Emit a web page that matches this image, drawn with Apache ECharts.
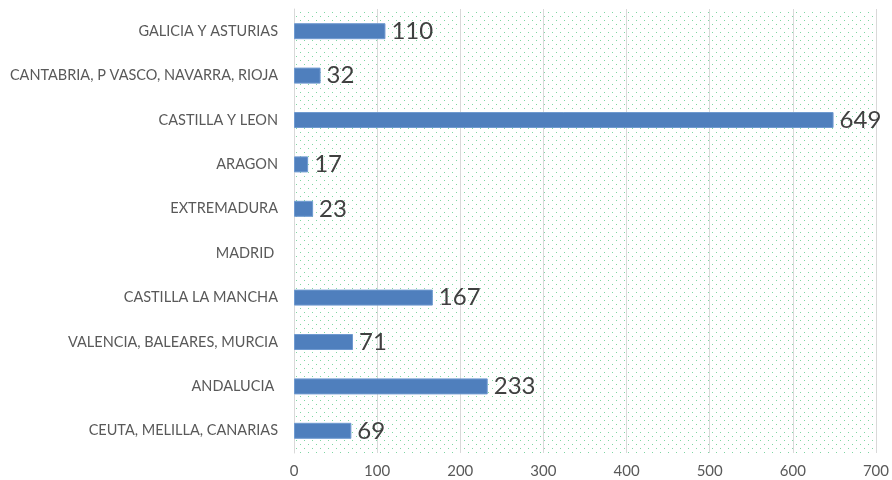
<!DOCTYPE html>
<html><head><meta charset="utf-8">
<script src="https://cdn.jsdelivr.net/npm/echarts@6/dist/echarts.min.js"></script>
<style>html,body{margin:0;padding:0;background:#fff}#c{width:892px;height:480px}</style>
</head><body><div id="c"></div>
<script>
const categories = ["GALICIA Y ASTURIAS","CANTABRIA, P VASCO, NAVARRA, RIOJA","CASTILLA Y LEON","ARAGON","EXTREMADURA","MADRID ","CASTILLA LA MANCHA","VALENCIA, BALEARES, MURCIA","ANDALUCIA ","CEUTA, MELILLA, CANARIAS"];
const values = [110, 32, 649, 17, 23, null, 167, 71, 233, 69];
const xTicks = [0, 100, 200, 300, 400, 500, 600, 700];

const pc = document.createElement('canvas');
pc.width = 8; pc.height = 8;
const g = pc.getContext('2d');
g.fillStyle = '#ffffff'; g.fillRect(0,0,8,8);
g.fillStyle = '#7fd6a3';
g.fillRect(0,0,1,1); g.fillRect(4,4,1,1);

const chart = echarts.init(document.getElementById('c'));
chart.setOption({
  animation:false,
  backgroundColor:'#fff',
  grid:{left:294,right:14,top:9,bottom:27,show:true,borderWidth:0,backgroundColor:{image:pc,repeat:'repeat'}},
  xAxis:{type:'value',min:xTicks[0],max:xTicks[xTicks.length-1],interval:100,
    axisLine:{show:false},axisTick:{show:false},
    axisLabel:{color:'#595959',fontSize:15,fontFamily:'Lato, sans-serif',margin:11},
    splitLine:{show:true,lineStyle:{color:'#d9d9d9',width:1}}},
  yAxis:{type:'category',data:categories,inverse:true,
    axisLine:{show:true,lineStyle:{color:'#d9d9d9'}},axisTick:{show:false},
    axisLabel:{color:'#595959',fontSize:14.5,fontFamily:'Lato, sans-serif',margin:16}},
  series:[{type:'bar',data:values,barWidth:16,
    itemStyle:{color:'#4f7fbd',borderColor:'#6f9ad0',borderWidth:1},
    label:{show:true,position:'right',distance:6,color:'#404040',fontSize:24,fontFamily:'Lato, sans-serif'}}]
});
</script></body></html>
